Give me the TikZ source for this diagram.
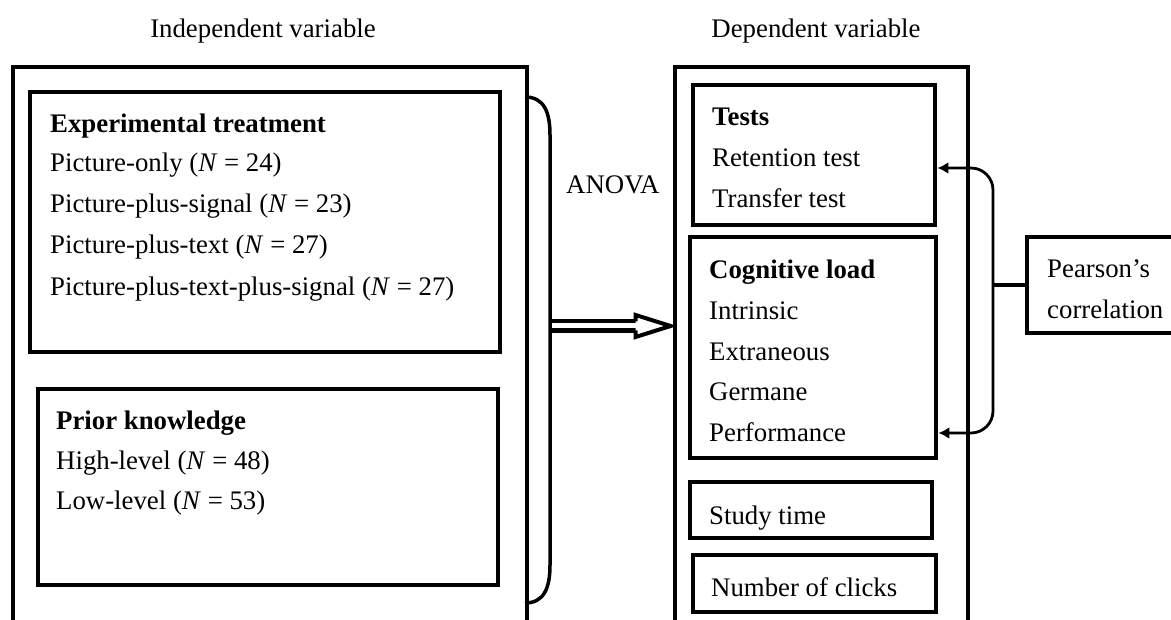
\documentclass[tikz,border=0pt]{standalone}
\usepackage{fontspec}
\setmainfont{Liberation Serif}
\usetikzlibrary{arrows.meta,fit,calc}
\begin{document}
\begin{tikzpicture}[x=1pt,y=-1pt,
  box/.style={draw, line width=4.8pt, inner sep=0pt},
  txt/.style={anchor=base west, inner sep=0pt, font=\fontsize{26.8}{32}\selectfont},
  ttl/.style={anchor=base, inner sep=0pt, font=\fontsize{26.8}{32}\selectfont},
  bracestyle/.style={line width=3.5pt},
  corr/.style={line width=2.8pt, rounded corners=22pt, {Latex[length=11pt,width=12pt]}-{Latex[length=11pt,width=12pt]}},
]
\useasboundingbox (0,0) rectangle (1171,620);
\clip (0,0) rectangle (1171,620);

% titles
\node[ttl] (tin) at (263,38) {Independent variable};
\node[ttl] (tdep) at (816,38) {Dependent variable};

% outer boxes
\node[box, fit={(13,67) (527,660)}] (lout) {};
\node[box, fit={(675,67) (968,660)}] (rout) {};

% inner boxes
\node[box, fit={(30,92) (500,352)}] (exp) {};
\node[box, fit={(38,389) (498,585)}] (prior) {};
\node[box, fit={(693,85) (935,225)}] (tests) {};
\node[box, fit={(690,237) (936,458)}] (cog) {};
\node[box, fit={(690,482) (932,538)}] (study) {};
\node[box, fit={(693,555) (936,612)}] (clicks) {};
\node[box, fit={(1027,237) (1190,333)}] (pear) {};

% texts
\node[txt] (e0) at (50,133) {\textbf{Experimental treatment}};
\node[txt] (e1) at (50,172) {Picture-only (\textit{N} = 24)};
\node[txt] (e2) at (50,213) {Picture-plus-signal (\textit{N} = 23)};
\node[txt] (e3) at (50,254) {Picture-plus-text (\textit{N} = 27)};
\node[txt] (e4) at (50,296) {Picture-plus-text-plus-signal (\textit{N} = 27)};

\node[txt] (p0) at (56,430) {\textbf{Prior knowledge}};
\node[txt] (p1) at (56,470) {High-level (\textit{N} = 48)};
\node[txt] (p2) at (56,509) {Low-level (\textit{N} = 53)};

\node[txt] (t0) at (712,126) {\textbf{Tests}};
\node[txt] (t1) at (712,167) {Retention test};
\node[txt] (t2) at (712,208) {Transfer test};

\node[txt] (c0) at (709,279) {\textbf{Cognitive load}};
\node[txt] (c1) at (709,320) {Intrinsic};
\node[txt] (c2) at (709,361) {Extraneous};
\node[txt] (c3) at (709,401) {Germane};
\node[txt] (c4) at (709,442) {Performance};

\node[txt] (s0) at (709,524) {Study time};
\node[txt] (n0) at (711,596) {Number of clicks};
\node[txt] (r0) at (1047,278) {Pearson’s};
\node[txt] (r1) at (1047,319) {correlation};
\node[txt] (anova) at (566,194) {ANOVA};

% brace
\coordinate (btop) at (525,97);
\coordinate (bbot) at (525,603);
\draw[bracestyle] (btop) .. controls (544,97) and (550,112) .. (550,135)
  -- (550,565) .. controls (550,588) and (544,603) .. (bbot);

% double arrow
\coordinate (amid) at (550,326);
\coordinate (atip) at ($(rout.west |- amid)+(-2,0)$);
\draw[line width=14pt] (amid) -- ($(atip)+(-35,0)$);
\draw[white, line width=5pt] ($(amid)+(2,0)$) -- ($(atip)+(-30,0)$);
\draw[line width=4pt, fill=white, line join=miter]
  ($(atip)+(-35,-4.5)$) -- ($(atip)+(-35,-11)$) -- (atip) -- ($(atip)+(-35,11)$) -- ($(atip)+(-35,4.5)$);

% correlation bracket
\coordinate (ctop) at (993,168);
\coordinate (cbot) at (993,433);
\draw[corr] (tests.east |- ctop) -- (ctop) -- (cbot) -- (cog.east |- cbot);
\draw[line width=4.5pt] (pear.west) -- (pear.west -| ctop);
\end{tikzpicture}
\end{document}
